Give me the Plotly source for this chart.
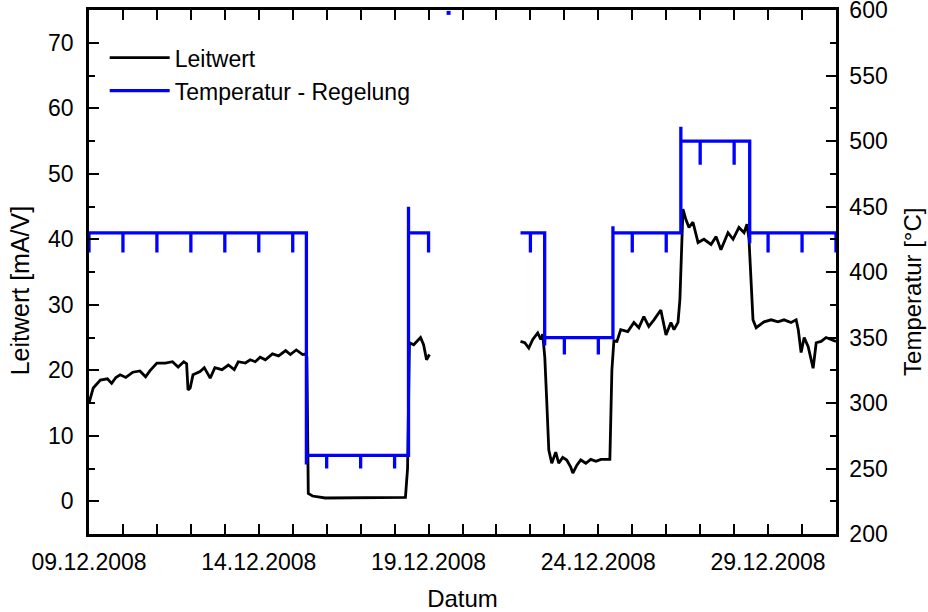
import plotly.graph_objects as go

# ---------------- data ----------------
leitwert_zeit = [
    "2008-12-09 00:00", "2008-12-09 03:00", "2008-12-09 08:00", "2008-12-09 13:00",
    "2008-12-09 16:00", "2008-12-09 19:00", "2008-12-09 22:00", "2008-12-10 02:00",
    "2008-12-10 07:00", "2008-12-10 12:00", "2008-12-10 16:00", "2008-12-10 19:00",
    "2008-12-11 00:00", "2008-12-11 06:00", "2008-12-11 11:00", "2008-12-11 15:00",
    "2008-12-11 19:00", "2008-12-11 21:00", "2008-12-11 22:00", "2008-12-11 23:30",
    "2008-12-12 01:30", "2008-12-12 06:30", "2008-12-12 09:30", "2008-12-12 13:40",
    "2008-12-12 17:00", "2008-12-12 22:00", "2008-12-13 02:30", "2008-12-13 06:40",
    "2008-12-13 09:30", "2008-12-13 14:30", "2008-12-13 18:00", "2008-12-13 21:30",
    "2008-12-14 01:00", "2008-12-14 04:40", "2008-12-14 09:40", "2008-12-14 14:00",
    "2008-12-14 19:00", "2008-12-14 22:20", "2008-12-15 02:30", "2008-12-15 07:00",
    "2008-12-15 09:00", "2008-12-15 10:00", "2008-12-15 11:00", "2008-12-15 14:00",
    "2008-12-15 23:00", "2008-12-16 23:45", "2008-12-18 07:40", "2008-12-18 09:10",
    "2008-12-18 10:30", "2008-12-18 13:30", "2008-12-18 15:30", "2008-12-18 18:20",
    "2008-12-18 20:30", "2008-12-18 22:35", "2008-12-19 00:40",
    None,
    "2008-12-21 17:00", "2008-12-21 20:00", "2008-12-21 22:50", "2008-12-22 01:40",
    "2008-12-22 05:10", "2008-12-22 07:20", "2008-12-22 08:40", "2008-12-22 10:10",
    "2008-12-22 11:30", "2008-12-22 13:00", "2008-12-22 15:05", "2008-12-22 17:55",
    "2008-12-22 20:00", "2008-12-22 22:50", "2008-12-23 01:40", "2008-12-23 04:30",
    "2008-12-23 06:00", "2008-12-23 08:50", "2008-12-23 11:35", "2008-12-23 15:10",
    "2008-12-23 18:40", "2008-12-23 22:20", "2008-12-24 01:50", "2008-12-24 08:10",
    "2008-12-24 09:35", "2008-12-24 11:00", "2008-12-24 13:10", "2008-12-24 15:50",
    "2008-12-24 20:50", "2008-12-25 01:10", "2008-12-25 04:40", "2008-12-25 08:10",
    "2008-12-25 11:40", "2008-12-25 15:20", "2008-12-25 20:10", "2008-12-25 23:50",
    "2008-12-26 03:20", "2008-12-26 05:30", "2008-12-26 08:20", "2008-12-26 09:40",
    "2008-12-26 11:50", "2008-12-26 13:55", "2008-12-26 16:05", "2008-12-26 18:55",
    "2008-12-26 22:30", "2008-12-27 02:40", "2008-12-27 07:40", "2008-12-27 11:15",
    "2008-12-27 14:40", "2008-12-27 19:40", "2008-12-27 23:15", "2008-12-28 03:25",
    "2008-12-28 07:00", "2008-12-28 09:05", "2008-12-28 10:30", "2008-12-28 13:20",
    "2008-12-28 15:35", "2008-12-28 21:10", "2008-12-29 02:10", "2008-12-29 07:00",
    "2008-12-29 11:15", "2008-12-29 16:15", "2008-12-29 19:50", "2008-12-29 21:20",
    "2008-12-29 23:20", "2008-12-30 01:30", "2008-12-30 04:20", "2008-12-30 07:50",
    "2008-12-30 10:00", "2008-12-30 13:30", "2008-12-30 17:00", "2008-12-30 20:35",
    "2008-12-31 00:00",
]
leitwert_wert = [
    15.0, 17.3, 18.5, 18.7, 18.0, 18.9, 19.3, 18.9,
    19.7, 19.9, 19.0, 19.9, 21.1, 21.1, 21.3, 20.5,
    21.3, 21.0, 17.0, 17.3, 19.3, 19.8, 20.4, 18.8,
    20.4, 20.1, 20.8, 20.1, 21.3, 21.1, 21.6, 21.3,
    22.0, 21.6, 22.5, 22.2, 23.0, 22.4, 23.1, 22.4,
    22.5, 22.0, 1.2, 0.8, 0.5, 0.5, 0.6, 5.0,
    24.2, 23.9, 24.3, 25.0, 23.9, 21.6, 22.4,
    None,
    24.4, 24.2, 23.4, 24.7, 25.7, 24.7, 25.5, 22.0,
    15.5, 7.8, 5.8, 7.5, 5.8, 6.7, 6.3, 5.2,
    4.3, 5.5, 6.3, 5.8, 6.4, 6.1, 6.4, 6.4,
    20.0, 24.5, 24.4, 26.2, 25.9, 27.3, 26.5, 28.2,
    26.7, 27.7, 29.2, 25.4, 27.3, 26.2, 27.3, 30.8,
    44.6, 43.0, 41.8, 42.6, 39.5, 40.0, 39.2, 40.4,
    38.4, 41.0, 40.0, 41.8, 41.0, 42.3, 40.0, 27.7,
    26.5, 27.4, 27.7, 27.4, 27.7, 27.3, 27.7, 26.2,
    22.7, 25.0, 23.6, 20.3, 24.2, 24.4, 25.0, 24.7,
    24.4,
]

temperatur_zeit = [
    "2008-12-09 00:00", "2008-12-09 00:00",
    "2008-12-10 00:00", "2008-12-10 00:00", "2008-12-10 00:00",
    "2008-12-11 00:00", "2008-12-11 00:00", "2008-12-11 00:00",
    "2008-12-12 00:00", "2008-12-12 00:00", "2008-12-12 00:00",
    "2008-12-13 00:00", "2008-12-13 00:00", "2008-12-13 00:00",
    "2008-12-14 00:00", "2008-12-14 00:00", "2008-12-14 00:00",
    "2008-12-15 00:00", "2008-12-15 00:00", "2008-12-15 00:00",
    "2008-12-15 09:40", "2008-12-15 09:40", "2008-12-15 09:40",
    "2008-12-16 00:00", "2008-12-16 00:00", "2008-12-16 00:00",
    "2008-12-17 00:00", "2008-12-17 00:00", "2008-12-17 00:00",
    "2008-12-18 00:00", "2008-12-18 00:00", "2008-12-18 00:00",
    "2008-12-18 09:50", "2008-12-18 09:50", "2008-12-18 09:50",
    "2008-12-19 00:00", "2008-12-19 00:00",
    None,
    "2008-12-21 17:00",
    "2008-12-22 00:00", "2008-12-22 00:00", "2008-12-22 00:00",
    "2008-12-22 10:05", "2008-12-22 10:05", "2008-12-22 10:05",
    "2008-12-23 00:00", "2008-12-23 00:00", "2008-12-23 00:00",
    "2008-12-24 00:00", "2008-12-24 00:00", "2008-12-24 00:00",
    "2008-12-24 10:20", "2008-12-24 10:20", "2008-12-24 10:20",
    "2008-12-25 00:00", "2008-12-25 00:00", "2008-12-25 00:00",
    "2008-12-26 00:00", "2008-12-26 00:00", "2008-12-26 00:00",
    "2008-12-26 10:20", "2008-12-26 10:20", "2008-12-26 10:20",
    "2008-12-27 00:00", "2008-12-27 00:00", "2008-12-27 00:00",
    "2008-12-28 00:00", "2008-12-28 00:00", "2008-12-28 00:00",
    "2008-12-28 11:00", "2008-12-28 11:00", "2008-12-28 11:00",
    "2008-12-29 00:00", "2008-12-29 00:00", "2008-12-29 00:00",
    "2008-12-30 00:00", "2008-12-30 00:00", "2008-12-30 00:00",
    "2008-12-31 00:00", "2008-12-31 00:00",
]
temperatur_wert = [
    415, 430,
    430, 415, 430,
    430, 415, 430,
    430, 415, 430,
    430, 415, 430,
    430, 415, 430,
    430, 415, 430,
    430, 253, 260,
    260, 250, 260,
    260, 250, 260,
    260, 250, 260,
    260, 450, 430,
    430, 415,
    None,
    430,
    430, 415, 430,
    430, 344, 350,
    350, 337, 350,
    350, 337, 350,
    350, 435, 430,
    430, 415, 430,
    430, 415, 430,
    430, 511, 500,
    500, 482, 500,
    500, 482, 500,
    500, 422, 430,
    430, 415, 430,
    430, 415, 430,
    430, 415,
]

ausreisser_zeit = ["2008-12-19 14:10"]
ausreisser_wert = [598]

x_bereich = ["2008-12-09", "2008-12-31"]
y_bereich = [-5, 75]
y2_bereich = [200, 600.2]

TAG_MS = 86400000
FONT = "Liberation Sans, Arial, sans-serif"

fig = go.Figure()
fig.add_trace(go.Scatter(
    x=leitwert_zeit, y=leitwert_wert, mode="lines", name="Leitwert",
    line=dict(color="black", width=2.8), connectgaps=False, yaxis="y",
))
fig.add_trace(go.Scatter(
    x=temperatur_zeit, y=temperatur_wert, mode="lines", name="Temperatur - Regelung",
    line=dict(color="#0000ff", width=3.3), connectgaps=False, yaxis="y2",
))
fig.add_trace(go.Scatter(
    x=ausreisser_zeit, y=ausreisser_wert, mode="markers", showlegend=False,
    marker=dict(color="#0000ff", size=4, symbol="square"), yaxis="y2",
))

achse = dict(
    ticks="inside", ticklen=10, tickwidth=2, tickcolor="black",
    showline=True, linecolor="black", linewidth=2.5,
    showgrid=False, zeroline=False, automargin=False,
    ticklabeloverflow="allow",
    tickfont=dict(family=FONT, size=23, color="black"),
)

titel_font = dict(family=FONT, size=25, color="black")

fig.update_layout(
    width=928, height=612,
    margin=dict(l=89, r=92, t=10, b=78),
    paper_bgcolor="white", plot_bgcolor="white",
    font=dict(family=FONT, color="black"),
    showlegend=True,
    legend=dict(
        x=0.021, y=0.95, xanchor="left", yanchor="top",
        bgcolor="rgba(0,0,0,0)", font=dict(family=FONT, size=23, color="black"),
        itemwidth=60, tracegroupgap=0,
    ),
    xaxis=dict(
        achse, type="date", range=x_bereich, tick0="2008-12-09", dtick=5 * TAG_MS,
        tickformat="%d.%m.%Y", mirror="allticks", ticklabelstandoff=6,
        minor=dict(dtick=TAG_MS, ticks="inside", ticklen=6, tickwidth=2, tickcolor="black", showgrid=False),
        title=dict(text="Datum", font=dict(family=FONT, size=24, color="black"), standoff=18),
    ),
    yaxis=dict(
        achse, range=y_bereich, tick0=0, dtick=10, mirror=False, ticklabelstandoff=8,
        minor=dict(dtick=5, ticks="inside", ticklen=6, tickwidth=2, tickcolor="black", showgrid=False),
    ),
    yaxis2=dict(
        achse, range=y2_bereich, tick0=200, dtick=50, overlaying="y", side="right", ticklabelstandoff=6,
        minor=dict(dtick=25, ticks="inside", ticklen=6, tickwidth=2, tickcolor="black", showgrid=False),
    ),
    annotations=[
        dict(text="Leitwert [mA/V]", xref="paper", yref="paper", x=0, y=0.465,
             xshift=-69, xanchor="center", yanchor="middle", textangle=-90,
             showarrow=False, font=titel_font),
        dict(text="Temperatur [°C]", xref="paper", yref="paper", x=1, y=0.462,
             xshift=77, xanchor="center", yanchor="middle", textangle=-90,
             showarrow=False, font=dict(family=FONT, size=24, color="black")),
    ],
)

fig.write_html("out.html")
